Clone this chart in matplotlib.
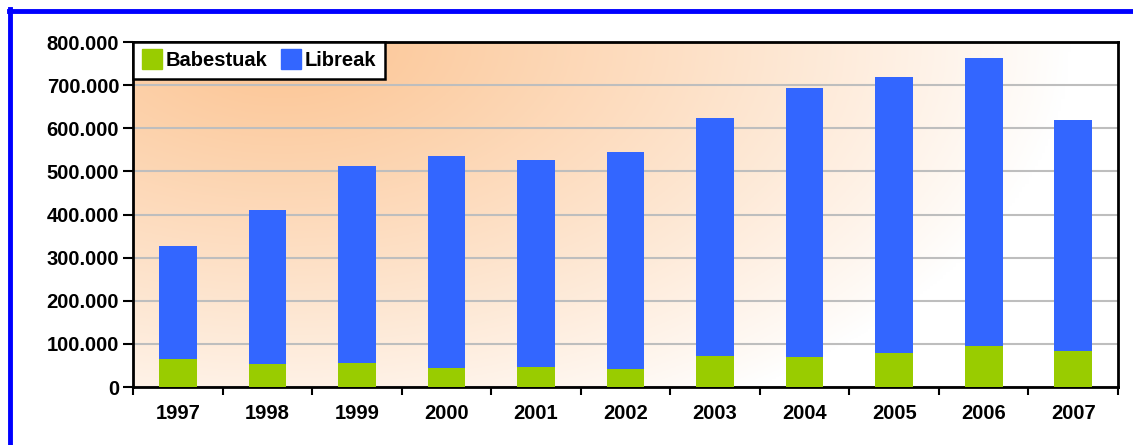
import numpy as np
import matplotlib.pyplot as plt
from matplotlib.lines import Line2D
from matplotlib.ticker import FuncFormatter

plt.rcParams['font.family'] = ['Liberation Sans', 'DejaVu Sans']
plt.rcParams['font.weight'] = 'bold'

# --- data ---
years = ['1997', '1998', '1999', '2000', '2001', '2002', '2003', '2004', '2005', '2006', '2007']
babestuak = [65000, 54000, 56000, 45000, 47000, 42000, 73000, 70000, 79000, 94000, 83000]
totals = [327000, 410000, 512000, 536000, 526000, 545000, 624000, 693000, 719000, 763000, 619000]
libreak = [t - b for t, b in zip(totals, babestuak)]

green = '#99CC00'
blue = '#3366FF'

fig = plt.figure(figsize=(11.33, 4.45), dpi=100)
ax = fig.add_axes([0.1174, 0.1303, 0.8694, 0.7753])

# --- peach gradient background ---
gx, gy = np.meshgrid(np.linspace(0, 1, 300), np.linspace(0, 1, 200))
d = np.sqrt(((gx - 0.15) / 0.8) ** 2 + ((gy - 1.0) / 1.25) ** 2)
w = np.clip(1 - d, 0, 1) ** 0.9
c0 = np.array([1.0, 1.0, 1.0])
c1 = np.array([252, 196, 146]) / 255
img = c0 + (c1 - c0) * w[..., None]
ax.imshow(img, extent=[0, 1, 0, 1], transform=ax.transAxes, origin='lower',
          aspect='auto', zorder=0)

x = np.arange(len(years))
ax.bar(x, babestuak, width=0.42, color=green, zorder=3)
ax.bar(x, libreak, width=0.42, bottom=babestuak, color=blue, zorder=3)

ax.set_xlim(-0.5, len(years) - 0.5)
ax.set_ylim(0, 800000)
ax.set_yticks(np.arange(0, 800001, 100000))
ax.yaxis.set_major_formatter(FuncFormatter(lambda v, p: '0' if v == 0 else f'{int(v):,}'.replace(',', '.')))
ax.grid(axis='y', color='#BEBEBE', linewidth=1.5, zorder=1)

# year labels centred, tick marks between categories
ax.set_xticks(np.arange(-0.5, len(years)), minor=False)
ax.set_xticklabels([])
ax.set_xticks(x, minor=True)
ax.set_xticklabels(years, minor=True)
ax.tick_params(axis='x', which='minor', length=0, pad=12, labelsize=14.5)
ax.tick_params(axis='x', which='major', length=6, width=1.5, direction='out')
ax.tick_params(axis='y', length=7, width=1.5, labelsize=14.5, pad=3)
for s in ax.spines.values():
    s.set_linewidth(2)
    s.set_color('black')

handles = [Line2D([], [], marker='s', linestyle='none', markersize=14, color=green),
           Line2D([], [], marker='s', linestyle='none', markersize=14, color=blue)]
leg = ax.legend(handles, ['Babestuak', 'Libreak'], loc='upper left', ncol=2,
                bbox_to_anchor=(0, 1), borderaxespad=0, fancybox=False,
                framealpha=1, edgecolor='black', fontsize=14.5,
                handletextpad=0.15, columnspacing=0.7, handlelength=1.0,
                borderpad=0.45)
leg.get_frame().set_linewidth(1.8)
leg.set_zorder(5)

# blue outer frame (top and left edges)
fig.add_artist(Line2D([8.5 / 1133, 1], [1 - 11 / 445, 1 - 11 / 445], color='#0000FF', linewidth=3.5,
                      transform=fig.transFigure))
fig.add_artist(Line2D([10 / 1133, 10 / 1133], [0, 1 - 9 / 445], color='#0000FF', linewidth=3.5,
                      transform=fig.transFigure))

fig.savefig('out.png', dpi=100)
